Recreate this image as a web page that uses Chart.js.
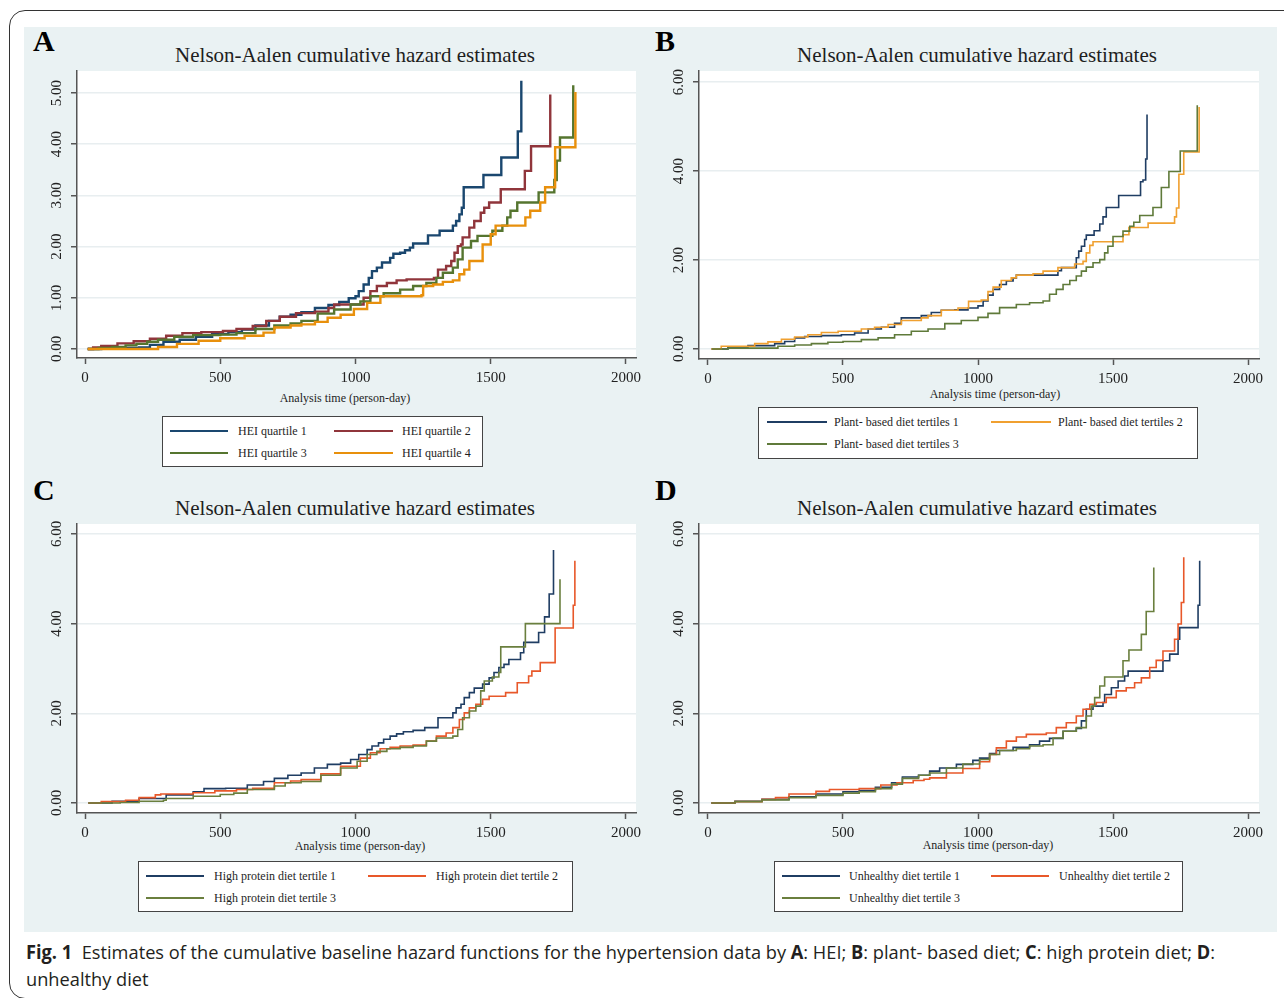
<!DOCTYPE html>
<html>
<head>
<meta charset="utf-8">
<script src="https://cdn.jsdelivr.net/npm/chart.js@4.4.1/dist/chart.umd.min.js"></script>
<style>
  body { margin:0; width:1284px; height:998px; background:#fff; position:relative; overflow:hidden; font-family:"Liberation Serif", serif; }
  .frame { position:absolute; left:9px; top:10px; width:1310px; height:987px; border:1px solid #333; border-radius:16px; }
  .panelbg { position:absolute; left:24px; top:27px; width:1253px; height:905px; background:#eaf2f3; }
  .abs { position:absolute; white-space:nowrap; line-height:1; color:#1e1e1e; }
  .letter { font-weight:bold; font-size:30px; color:#000; }
  .title { font-size:21px; transform:translateX(-50%); }
  .axtitle { font-size:12px; transform:translateX(-50%); }
  canvas { position:absolute; }
  .legend { position:absolute; border:1px solid #444; background:#fff; box-sizing:border-box; }
  .caption { position:absolute; left:26px; top:939px; font-family:"Open Sans", sans-serif; font-size:19px; line-height:27px; color:#231f20; white-space:nowrap; transform-origin:0 0; }
</style>
</head>
<body>
<div class="frame"></div>
<div class="panelbg"></div>

<div class="abs letter" style="left:33px;top:26px">A</div>
<div class="abs letter" style="left:655px;top:26px">B</div>
<div class="abs letter" style="left:33px;top:475px">C</div>
<div class="abs letter" style="left:655px;top:475px">D</div>

<div class="abs title" style="left:355px;top:45px">Nelson-Aalen cumulative hazard estimates</div>
<div class="abs title" style="left:977px;top:45px">Nelson-Aalen cumulative hazard estimates</div>
<div class="abs title" style="left:355px;top:498px">Nelson-Aalen cumulative hazard estimates</div>
<div class="abs title" style="left:977px;top:498px">Nelson-Aalen cumulative hazard estimates</div>

<div class="abs axtitle" style="left:345px;top:392px">Analysis time (person-day)</div>
<div class="abs axtitle" style="left:995px;top:388px">Analysis time (person-day)</div>
<div class="abs axtitle" style="left:360px;top:840px">Analysis time (person-day)</div>
<div class="abs axtitle" style="left:988px;top:839px">Analysis time (person-day)</div>

<div class="caption" id="caption"><span id="cap1"><b>Fig. 1</b>&nbsp; Estimates of the cumulative baseline hazard functions for the hypertension data by <b>A</b>: HEI; <b>B</b>: plant- based diet; <b>C</b>: high protein diet; <b>D</b>:</span><br>unhealthy diet</div>

<script>
// tick values shared by the panels
const xTicks = [0, 500, 1000, 1500, 2000];
const yTicksA = [0, 1, 2, 3, 4, 5];
const yTicksBCD = [0, 2, 4, 6];

// --- A: HEI quartiles ---
const tA1 = [10, 60, 130, 200, 240, 290, 350, 410, 470, 530, 580, 630, 680, 720, 760, 800, 850, 900, 940, 975, 1000, 1012, 1030, 1049, 1061, 1079, 1098, 1128, 1140, 1165, 1183, 1201, 1213, 1268, 1311, 1360, 1372, 1384, 1393, 1400, 1473, 1539, 1600, 1613];
const hA1 = [0, 0.01, 0.02, 0.03, 0.08, 0.14, 0.18, 0.24, 0.29, 0.33, 0.38, 0.46, 0.55, 0.63, 0.67, 0.72, 0.80, 0.86, 0.92, 0.99, 1.03, 1.13, 1.26, 1.39, 1.52, 1.59, 1.69, 1.78, 1.86, 1.88, 1.93, 1.98, 2.06, 2.22, 2.31, 2.41, 2.50, 2.63, 2.76, 3.16, 3.40, 3.74, 4.25, 5.24];
const tA2 = [10, 30, 60, 120, 180, 240, 300, 360, 430, 510, 560, 620, 670, 720, 780, 850, 900, 921, 1030, 1055, 1079, 1116, 1152, 1189, 1290, 1305, 1335, 1354, 1366, 1378, 1390, 1396, 1421, 1439, 1463, 1476, 1494, 1537, 1626, 1649, 1720];
const hA2 = [0, 0.03, 0.06, 0.11, 0.15, 0.20, 0.26, 0.31, 0.33, 0.35, 0.39, 0.45, 0.55, 0.63, 0.70, 0.73, 0.80, 0.87, 1.00, 1.13, 1.23, 1.29, 1.34, 1.36, 1.39, 1.55, 1.62, 1.72, 1.88, 2.01, 2.04, 2.18, 2.37, 2.50, 2.66, 2.76, 2.86, 3.12, 3.48, 3.96, 4.97];
const tA3 = [10, 50, 100, 150, 190, 230, 270, 330, 400, 500, 560, 630, 700, 760, 800, 860, 921, 982, 1018, 1055, 1104, 1165, 1213, 1262, 1299, 1323, 1360, 1378, 1396, 1427, 1451, 1506, 1543, 1561, 1573, 1598, 1677, 1735, 1744, 1756, 1805];
const hA3 = [0, 0.02, 0.04, 0.07, 0.10, 0.14, 0.18, 0.24, 0.27, 0.28, 0.31, 0.39, 0.46, 0.50, 0.55, 0.69, 0.77, 0.87, 0.93, 1.03, 1.09, 1.16, 1.23, 1.29, 1.39, 1.49, 1.59, 1.75, 1.98, 2.11, 2.21, 2.31, 2.41, 2.57, 2.70, 2.86, 3.06, 3.30, 3.68, 4.13, 5.15];
const tA4 = [10, 250, 270, 340, 420, 500, 590, 660, 700, 760, 800, 850, 897, 945, 994, 1043, 1092, 1244, 1250, 1287, 1323, 1360, 1384, 1402, 1421, 1470, 1500, 1518, 1628, 1646, 1683, 1701, 1738, 1813];
const hA4 = [0, 0, 0.04, 0.10, 0.16, 0.21, 0.26, 0.32, 0.42, 0.46, 0.48, 0.53, 0.61, 0.67, 0.78, 0.90, 1.03, 1.05, 1.23, 1.26, 1.31, 1.34, 1.46, 1.55, 1.72, 2.04, 2.24, 2.41, 2.57, 2.70, 2.86, 3.16, 3.94, 5.02];

// --- B: plant-based diet tertiles ---
const tB1 = [12, 74, 148, 247, 284, 321, 358, 420, 494, 543, 593, 642, 691, 716, 790, 827, 864, 914, 963, 1000, 1019, 1037, 1056, 1080, 1105, 1130, 1142, 1296, 1309, 1364, 1373, 1383, 1395, 1401, 1430, 1451, 1463, 1475, 1521, 1602, 1611, 1621, 1626];
const hB1 = [0, 0.045, 0.075, 0.12, 0.17, 0.25, 0.28, 0.30, 0.32, 0.36, 0.45, 0.49, 0.58, 0.70, 0.75, 0.82, 0.87, 0.88, 0.92, 0.97, 1.08, 1.21, 1.34, 1.45, 1.53, 1.59, 1.66, 1.76, 1.83, 2.05, 2.20, 2.31, 2.46, 2.56, 2.66, 2.81, 2.97, 3.18, 3.45, 3.76, 3.80, 4.27, 5.27];
const tB2 = [12, 49, 173, 222, 272, 321, 370, 420, 482, 568, 617, 667, 716, 790, 815, 864, 926, 965, 1012, 1037, 1056, 1086, 1123, 1142, 1204, 1241, 1296, 1358, 1389, 1401, 1414, 1426, 1537, 1559, 1630, 1728, 1735, 1744, 1762, 1819];
const hB2 = [0, 0.06, 0.12, 0.16, 0.22, 0.27, 0.32, 0.37, 0.40, 0.45, 0.49, 0.55, 0.64, 0.70, 0.75, 0.87, 0.92, 1.07, 1.10, 1.29, 1.39, 1.54, 1.60, 1.66, 1.69, 1.75, 1.83, 1.91, 1.97, 2.16, 2.33, 2.41, 2.57, 2.73, 2.83, 2.97, 3.17, 3.93, 4.43, 5.44];
const tB3 = [15, 74, 259, 321, 383, 444, 500, 568, 630, 691, 753, 815, 877, 938, 1000, 1037, 1080, 1142, 1191, 1241, 1265, 1290, 1315, 1340, 1364, 1383, 1401, 1426, 1451, 1469, 1481, 1500, 1537, 1562, 1577, 1599, 1648, 1679, 1707, 1749, 1812];
const hB3 = [0, 0.02, 0.06, 0.09, 0.12, 0.15, 0.17, 0.21, 0.25, 0.32, 0.40, 0.45, 0.57, 0.64, 0.71, 0.80, 0.93, 1.00, 1.04, 1.08, 1.23, 1.34, 1.45, 1.54, 1.64, 1.75, 1.84, 1.94, 2.01, 2.16, 2.31, 2.53, 2.65, 2.76, 2.85, 3.00, 3.18, 3.63, 3.99, 4.45, 5.48];

// --- C: high protein diet tertiles ---
const tC1 = [12, 100, 200, 300, 400, 440, 520, 600, 660, 700, 750, 799, 848, 896, 945, 982, 1012, 1043, 1061, 1085, 1104, 1128, 1152, 1177, 1213, 1256, 1305, 1360, 1372, 1390, 1402, 1421, 1439, 1470, 1494, 1512, 1530, 1549, 1567, 1610, 1622, 1677, 1699, 1716, 1732];
const hC1 = [0, 0.04, 0.10, 0.18, 0.25, 0.32, 0.33, 0.40, 0.48, 0.55, 0.62, 0.67, 0.78, 0.86, 0.89, 0.97, 1.08, 1.19, 1.27, 1.34, 1.42, 1.49, 1.54, 1.59, 1.62, 1.68, 1.90, 2.01, 2.12, 2.20, 2.35, 2.46, 2.56, 2.65, 2.79, 2.91, 3.02, 3.09, 3.20, 3.35, 3.58, 3.80, 4.15, 4.66, 5.64];
const tC2 = [12, 60, 150, 200, 260, 280, 400, 480, 560, 620, 700, 760, 799, 872, 945, 1018, 1055, 1091, 1128, 1165, 1213, 1262, 1299, 1335, 1360, 1384, 1402, 1421, 1445, 1470, 1494, 1555, 1598, 1640, 1652, 1683, 1738, 1805, 1811];
const hC2 = [0, 0.03, 0.06, 0.12, 0.18, 0.20, 0.23, 0.27, 0.30, 0.33, 0.45, 0.49, 0.52, 0.65, 0.82, 1.00, 1.12, 1.21, 1.24, 1.27, 1.29, 1.38, 1.49, 1.56, 1.68, 1.86, 2.01, 2.12, 2.20, 2.31, 2.38, 2.46, 2.68, 2.83, 2.94, 3.13, 3.90, 4.41, 5.40];
const tC3 = [12, 130, 200, 290, 300, 400, 500, 550, 600, 700, 740, 799, 872, 945, 1006, 1043, 1079, 1116, 1165, 1213, 1262, 1299, 1360, 1378, 1396, 1421, 1445, 1463, 1476, 1506, 1530, 1537, 1628, 1756];
const hC3 = [0, 0.01, 0.04, 0.06, 0.10, 0.15, 0.19, 0.22, 0.30, 0.38, 0.45, 0.48, 0.62, 0.78, 0.93, 1.08, 1.15, 1.21, 1.24, 1.27, 1.38, 1.45, 1.49, 1.64, 1.90, 2.05, 2.16, 2.50, 2.72, 2.81, 2.91, 3.48, 4.00, 4.99];

// --- D: unhealthy diet tertiles ---
const tD1 = [12, 100, 200, 300, 400, 500, 560, 620, 680, 720, 780, 821, 858, 920, 981, 1006, 1043, 1068, 1130, 1191, 1228, 1265, 1315, 1364, 1383, 1401, 1426, 1463, 1469, 1494, 1519, 1543, 1556, 1685, 1710, 1741, 1747, 1815, 1821];
const hD1 = [0, 0.04, 0.08, 0.14, 0.20, 0.25, 0.28, 0.35, 0.45, 0.58, 0.62, 0.71, 0.78, 0.86, 0.95, 1.00, 1.10, 1.17, 1.24, 1.30, 1.38, 1.44, 1.60, 1.66, 1.83, 2.09, 2.16, 2.24, 2.42, 2.57, 2.72, 2.83, 2.94, 3.17, 3.32, 3.65, 3.91, 4.41, 5.40];
const tD2 = [12, 100, 200, 250, 300, 400, 450, 560, 640, 700, 760, 800, 821, 883, 944, 1006, 1043, 1068, 1105, 1142, 1179, 1253, 1290, 1327, 1364, 1389, 1414, 1438, 1475, 1512, 1549, 1580, 1605, 1636, 1660, 1685, 1728, 1741, 1753, 1762];
const hD2 = [0, 0.03, 0.08, 0.12, 0.20, 0.26, 0.30, 0.32, 0.40, 0.45, 0.50, 0.53, 0.56, 0.67, 0.77, 0.92, 1.08, 1.23, 1.38, 1.47, 1.53, 1.56, 1.68, 1.79, 1.94, 2.09, 2.20, 2.24, 2.35, 2.50, 2.57, 2.68, 2.79, 3.02, 3.18, 3.39, 3.65, 3.99, 4.47, 5.48];
const tD3 = [12, 100, 200, 300, 400, 500, 560, 620, 680, 720, 780, 821, 883, 944, 1006, 1043, 1080, 1142, 1191, 1241, 1278, 1315, 1364, 1401, 1420, 1432, 1451, 1469, 1537, 1559, 1605, 1623, 1651];
const hD3 = [0, 0.03, 0.07, 0.12, 0.17, 0.22, 0.25, 0.32, 0.42, 0.55, 0.62, 0.67, 0.78, 0.87, 0.97, 1.08, 1.17, 1.21, 1.27, 1.30, 1.45, 1.60, 1.68, 1.94, 2.16, 2.35, 2.61, 2.81, 3.17, 3.41, 3.76, 4.27, 5.25];

const Y_W = 50, X_H = 40, PAD_T = 14, PAD_R = 24;
const serif = 'Liberation Serif';

// white plot region, like Stata's plotregion
const plotBg = {
    id: 'plotBg',
    beforeDraw(chart) {
        const a = chart.chartArea, ctx = chart.ctx;
        ctx.save();
        ctx.fillStyle = '#ffffff';
        ctx.fillRect(a.left, a.top, a.right - a.left, a.bottom - a.top);
        ctx.restore();
    }
};

function makePanel(area, xr, yr, yTicks, series) {
    const cv = document.createElement('canvas');
    const w = area.r - area.l + Y_W + PAD_R;
    const h = area.b - area.t + PAD_T + X_H;
    cv.width = w; cv.height = h;
    cv.style.left = (area.l - Y_W) + 'px';
    cv.style.top = (area.t - PAD_T) + 'px';
    cv.style.width = w + 'px'; cv.style.height = h + 'px';
    document.body.appendChild(cv);

    new Chart(cv, {
        type: 'line',
        data: {
            datasets: series.map(s => ({
                data: s.t.map((x, i) => ({ x: x, y: s.h[i] })),
                borderColor: s.color,
                borderWidth: s.w,
                stepped: true,
                pointRadius: 0,
                fill: false
            }))
        },
        options: {
            responsive: false,
            animation: false,
            devicePixelRatio: 1,
            layout: { padding: { top: PAD_T, right: PAD_R, left: 0, bottom: 0 } },
            plugins: { legend: { display: false }, tooltip: { enabled: false } },
            scales: {
                x: {
                    type: 'linear', min: xr[0], max: xr[1],
                    afterBuildTicks: s => { s.ticks = xTicks.map(v => ({ value: v })); },
                    afterFit: s => { s.height = X_H; },
                    grid: { drawOnChartArea: false, tickLength: 6, tickColor: '#555', tickWidth: 1.5 },
                    border: { display: true, color: '#555', width: 1.5 },
                    ticks: { autoSkip: false, maxRotation: 0, padding: 5, color: '#222',
                             font: { family: serif, size: 15 }, callback: v => String(v) }
                },
                y: {
                    type: 'linear', min: yr[0], max: yr[1],
                    afterBuildTicks: s => { s.ticks = yTicks.map(v => ({ value: v })); },
                    afterFit: s => { s.width = Y_W; },
                    grid: { color: '#e8eef0', lineWidth: 1.5, tickLength: 6, tickColor: '#555', tickWidth: 1.5 },
                    border: { display: true, color: '#555', width: 1.5 },
                    ticks: { autoSkip: false, minRotation: 90, maxRotation: 90, crossAlign: 'center', padding: 1,
                             color: '#222', font: { family: serif, size: 15 }, callback: v => v.toFixed(2) }
                }
            }
        },
        plugins: [plotBg]
    });
}

function makeLegend(box, rows) {
    const lg = document.createElement('div');
    lg.className = 'legend';
    lg.style.left = box.l + 'px'; lg.style.top = box.t + 'px';
    lg.style.width = (box.r - box.l) + 'px'; lg.style.height = (box.b - box.t) + 'px';
    document.body.appendChild(lg);
    rows.forEach(e => {
        const ln = document.createElement('div');
        ln.style.cssText = 'position:absolute;left:' + (e.x0 - box.l) + 'px;top:' + (e.y - box.t - e.w / 2 - 1) +
            'px;width:' + (e.x1 - e.x0) + 'px;height:' + e.w + 'px;background:' + e.color;
        lg.appendChild(ln);
        const tx = document.createElement('div');
        tx.className = 'abs';
        tx.style.cssText += 'font-size:12px;left:' + (e.tx - box.l) + 'px;top:' + (e.y - box.t - 7) + 'px';
        tx.textContent = e.label;
        lg.appendChild(tx);
    });
}

const colA = ['#1a476f', '#90353b', '#55752f', '#e8900c'];
const colB = ['#1f3d63', '#f0a030', '#5f7a3a'];
const colCD = ['#1f3d63', '#e8582a', '#6a7f3e'];

makePanel({ l: 77, t: 71, r: 636, b: 358 }, [-29.6, 2037], [-0.176, 5.43], yTicksA, [
    { t: tA4, h: hA4, color: colA[3], w: 2.4 },
    { t: tA3, h: hA3, color: colA[2], w: 2.4 },
    { t: tA2, h: hA2, color: colA[1], w: 2.4 },
    { t: tA1, h: hA1, color: colA[0], w: 2.4 }
]);
makePanel({ l: 699, t: 71, r: 1259, b: 359 }, [-33.3, 2040.7], [-0.225, 6.25], yTicksBCD, [
    { t: tB3, h: hB3, color: colB[2], w: 1.6 },
    { t: tB2, h: hB2, color: colB[1], w: 1.6 },
    { t: tB1, h: hB1, color: colB[0], w: 1.6 }
]);
makePanel({ l: 77, t: 524, r: 636, b: 813 }, [-29.6, 2037], [-0.223, 6.22], yTicksBCD, [
    { t: tC3, h: hC3, color: colCD[2], w: 1.6 },
    { t: tC2, h: hC2, color: colCD[1], w: 1.6 },
    { t: tC1, h: hC1, color: colCD[0], w: 1.6 }
]);
makePanel({ l: 699, t: 524, r: 1259, b: 813 }, [-33.3, 2040.7], [-0.223, 6.22], yTicksBCD, [
    { t: tD3, h: hD3, color: colCD[2], w: 1.6 },
    { t: tD2, h: hD2, color: colCD[1], w: 1.6 },
    { t: tD1, h: hD1, color: colCD[0], w: 1.6 }
]);

makeLegend({ l: 162, t: 416, r: 483, b: 467 }, [
    { x0: 169, x1: 227, tx: 237, y: 431, w: 2.4, color: colA[0], label: 'HEI quartile 1' },
    { x0: 333, x1: 392, tx: 401, y: 431, w: 2.4, color: colA[1], label: 'HEI quartile 2' },
    { x0: 169, x1: 227, tx: 237, y: 453, w: 2.4, color: colA[2], label: 'HEI quartile 3' },
    { x0: 333, x1: 392, tx: 401, y: 453, w: 2.4, color: colA[3], label: 'HEI quartile 4' }
]);
makeLegend({ l: 758, t: 407, r: 1198, b: 459 }, [
    { x0: 766, x1: 826, tx: 833, y: 422, w: 1.6, color: colB[0], label: 'Plant- based diet tertiles 1' },
    { x0: 990, x1: 1050, tx: 1057, y: 422, w: 1.6, color: colB[1], label: 'Plant- based diet tertiles 2' },
    { x0: 766, x1: 826, tx: 833, y: 444, w: 1.6, color: colB[2], label: 'Plant- based diet tertiles 3' }
]);
makeLegend({ l: 138, t: 861, r: 573, b: 912 }, [
    { x0: 145, x1: 203, tx: 213, y: 876, w: 1.6, color: colCD[0], label: 'High protein diet tertile 1' },
    { x0: 367, x1: 425, tx: 435, y: 876, w: 1.6, color: colCD[1], label: 'High protein diet tertile 2' },
    { x0: 145, x1: 203, tx: 213, y: 898, w: 1.6, color: colCD[2], label: 'High protein diet tertile 3' }
]);
makeLegend({ l: 774, t: 861, r: 1183, b: 912 }, [
    { x0: 781, x1: 839, tx: 848, y: 876, w: 1.6, color: colCD[0], label: 'Unhealthy diet tertile 1' },
    { x0: 990, x1: 1048, tx: 1058, y: 876, w: 1.6, color: colCD[1], label: 'Unhealthy diet tertile 2' },
    { x0: 781, x1: 839, tx: 848, y: 898, w: 1.6, color: colCD[2], label: 'Unhealthy diet tertile 3' }
]);

// squeeze the caption to the width it has in the figure
const cap = document.getElementById('caption');
const capW = document.getElementById('cap1').getBoundingClientRect().width;
cap.style.transform = 'scaleX(' + (1189 / capW) + ')';
</script>
</body>
</html>
